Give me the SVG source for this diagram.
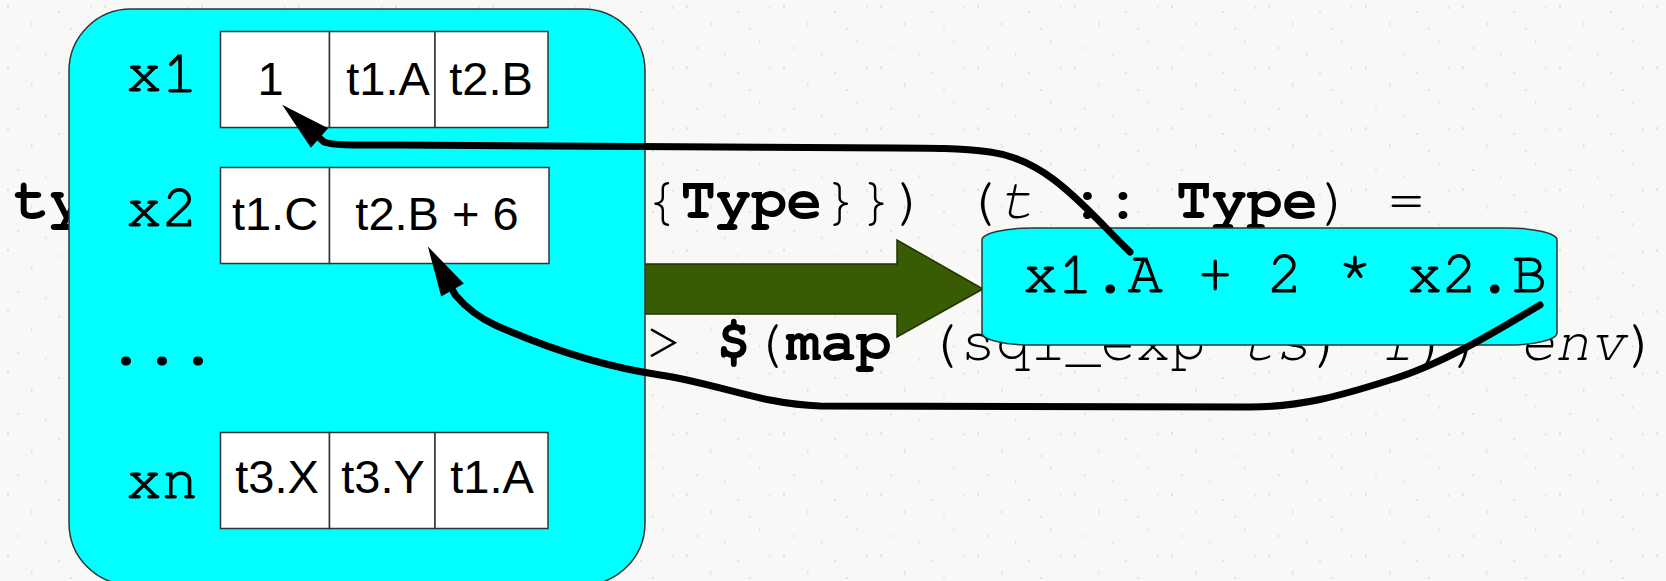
<svg xmlns="http://www.w3.org/2000/svg" width="1666" height="581" viewBox="0 0 1666 581">
<defs>
<style>
.code{font-family:"Nimbus Mono PS","Nimbus Mono L","FreeMono","Courier New","Liberation Mono",monospace;font-size:59px;fill:#000}
.b{font-weight:bold}
.i{font-style:italic}
.lbl{font-family:"Nimbus Mono PS","Nimbus Mono L","FreeMono","Courier New","Liberation Mono",monospace;font-size:60px;fill:#000;stroke:#000;stroke-width:1.1}
.cell{fill:#fff;stroke:#333;stroke-width:1.5}
.ct{font-family:"Liberation Sans",Arial,sans-serif;font-size:47px;fill:#000;text-anchor:middle}
.box{fill:#00ffff;stroke:#333;stroke-width:1.5}
.conn{fill:none;stroke:#000;stroke-width:7;stroke-linecap:round;stroke-linejoin:round}
.speck{fill:#e4e4e8}
</style>
<pattern id="tex" patternUnits="userSpaceOnUse" width="97" height="61">
<rect width="97" height="61" fill="#f8f8f6"/>
<rect class="speck" x="7" y="5" width="2" height="3"/>
<rect class="speck" x="31" y="22" width="1.5" height="4"/>
<rect class="speck" x="58" y="11" width="2" height="2"/>
<rect class="speck" x="80" y="40" width="1.5" height="3"/>
<rect class="speck" x="17" y="47" width="2" height="2"/>
<rect class="speck" x="45" y="53" width="1.5" height="3"/>
<rect class="speck" x="70" y="28" width="2" height="2"/>
<rect class="speck" x="90" y="6" width="1.5" height="3"/>
</pattern>
<marker id="ah" markerUnits="userSpaceOnUse" markerWidth="60" markerHeight="40" refX="0" refY="13" orient="auto" overflow="visible">
<path d="M0,0 L50,13 L0,26 z" fill="#000"/>
</marker>
</defs>
<rect x="0" y="0" width="1666" height="581" fill="url(#tex)"/>
<g id="code">
<text class="code b" x="14" y="218">ty</text>
<text class="code" x="645" y="218" xml:space="preserve">{<tspan class="b">Type</tspan>}}) (<tspan class="i">t</tspan> <tspan class="b">::</tspan> <tspan class="b">Type</tspan>) =</text>
<text class="code" x="646" y="360" xml:space="preserve" textLength="1014" lengthAdjust="spacing">&gt; <tspan class="b">$</tspan>(<tspan class="b">map</tspan> (sql_exp <tspan class="i">ts</tspan>) <tspan class="i">f</tspan>)) <tspan class="i">env</tspan>)</text>
</g>
<g id="big-arrow">
<path d="M600,264 L897,264 L897,240 L983,289 L897,337 L897,314 L600,314 z" fill="#395b03" stroke="#1f3300" stroke-width="1.5"/>
</g>
<g id="table-node">
<rect class="box" x="69" y="9" width="576" height="576" rx="62" ry="62"/>
<text class="lbl" x="126" y="91">x1</text>
<text class="lbl" x="126" y="226">x2</text>
<text class="lbl b" x="108" y="364">...</text>
<text class="lbl" x="126" y="498">xn</text>
<g id="row-x1">
<rect class="cell" x="220.5" y="31.5" width="109" height="96"/>
<rect class="cell" x="329.5" y="31.5" width="105.5" height="96"/>
<rect class="cell" x="435" y="31.5" width="113" height="96"/>
<text class="ct" x="270.5" y="95">1</text>
<text class="ct" x="388" y="95">t1.A</text>
<text class="ct" x="491" y="95">t2.B</text>
</g>
<g id="row-x2">
<rect class="cell" x="220.5" y="167.5" width="109" height="96"/>
<rect class="cell" x="329.5" y="167.5" width="219.5" height="96"/>
<text class="ct" x="275" y="230">t1.C</text>
<text class="ct" x="437" y="230">t2.B + 6</text>
</g>
<g id="row-xn">
<rect class="cell" x="220.5" y="432.5" width="109" height="96"/>
<rect class="cell" x="329.5" y="432.5" width="105.5" height="96"/>
<rect class="cell" x="435" y="432.5" width="113" height="96"/>
<text class="ct" x="277" y="493">t3.X</text>
<text class="ct" x="383" y="493">t3.Y</text>
<text class="ct" x="492" y="493">t1.A</text>
</g>
</g>
<g id="expr-node">
<rect class="box" x="982" y="228" width="575" height="117" rx="50" ry="12"/>
<text class="lbl" x="1023" y="292" textLength="524" lengthAdjust="spacingAndGlyphs">x1.A + 2 * x2.B</text>
</g>
<g id="connectors">
<path class="conn" marker-end="url(#ah)" d="M1130,252 C1088,212 1050,160 990,152 C960,148 930,148 895,148 L400,145 C360,145 335,146 324,142 L319.5,138"/>
<path class="conn" marker-end="url(#ah)" d="M1540,305 C1490,335 1440,365 1390,380 C1340,396 1300,407 1250,407 L820,406 C760,404 720,384 660,375 C600,366 540,345 495,325 C475,316 463,304 455.5,295.3 L452.5,290"/>
</g>
</svg>
